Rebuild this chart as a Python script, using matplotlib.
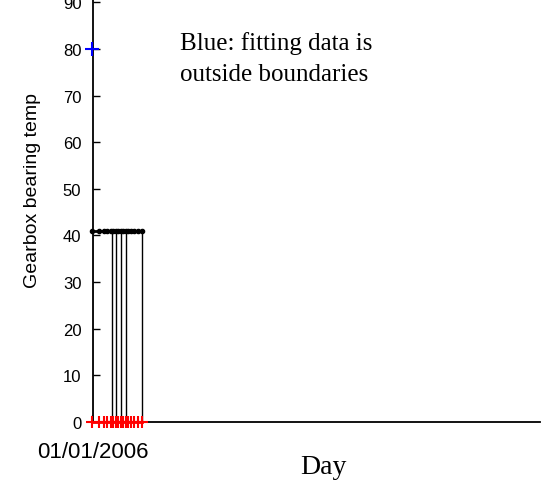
import numpy as np
import pandas as pd
import matplotlib
matplotlib.use('Agg')
import matplotlib.pyplot as plt
import matplotlib.dates as mdates

# days after 01/01/2006 where a value was logged
day_offsets = [0, 5, 9, 12, 15, 17, 19, 21, 23, 25, 27, 29, 31, 34, 37, 40]
upper_vals = [41] * len(day_offsets)
lower_vals = [0] * len(day_offsets)
# days that get a vertical connecting line
stem_days = [0, 15.5, 19, 23, 27, 40]
stem_top = 41
# fitting data outside the boundaries
fit_days = [0]
fit_vals = [80]

start = pd.Timestamp('2006-01-01')
dates = [start + pd.Timedelta(days=d) for d in day_offsets]
stem_dates = [start + pd.Timedelta(days=d) for d in stem_days]
fit_dates = [start + pd.Timedelta(days=d) for d in fit_days]

fig = plt.figure(figsize=(5.52, 4.85), dpi=100)
ax = fig.add_axes([92.5/552, 62.3/485, (540-92.5)/552, 422.7/485])

for d in stem_dates:
    ax.plot([d, d], [0, stem_top], color='black', lw=1)
ax.plot(dates, upper_vals, color='black', marker='.', ms=6, lw=2, clip_on=False)
ax.plot(dates, lower_vals, color='red', marker='+', ms=9, mew=1.5, lw=2, clip_on=False, zorder=5)
ax.plot(fit_dates, fit_vals, color='blue', marker='+', ms=10, mew=1.5, ls='none', clip_on=False, zorder=5)

ax.set_xlim(start, start + pd.Timedelta(days=365))
ax.set_ylim(0, 90.73)
ax.set_yticks(np.arange(0, 100, 10))
ax.set_xticks([start])
ax.xaxis.set_major_formatter(mdates.DateFormatter('%m/%d/%Y'))

for s in ['top', 'right']:
    ax.spines[s].set_visible(False)
for s in ['left', 'bottom']:
    ax.spines[s].set_linewidth(1.3)
ax.tick_params(direction='in', length=5, width=1)
ax.tick_params(axis='y', labelsize=12, pad=8)
ax.tick_params(axis='x', labelsize=16, pad=14)
for lab in ax.get_xticklabels() + ax.get_yticklabels():
    lab.set_family('Liberation Sans')

ax.set_xlabel('Day', family='Liberation Serif', fontsize=20, va='center')
ax.xaxis.set_label_coords((323 - 92.5) / 447.5, -(468 - 422.7) / 422.7)
ax.set_ylabel('Gearbox bearing temp', family='Liberation Sans', fontsize=14, va='center')
ax.yaxis.set_label_coords((33 - 92.5) / 447.5, (422.7 - 190) / 422.7)

ax.text(180/552, 1 - 59/485, 'Blue: fitting data is\noutside boundaries',
        transform=fig.transFigure, family='Liberation Serif', fontsize=18,
        va='center', ha='left', linespacing=1.5)

fig.savefig('out.png', dpi=100)
